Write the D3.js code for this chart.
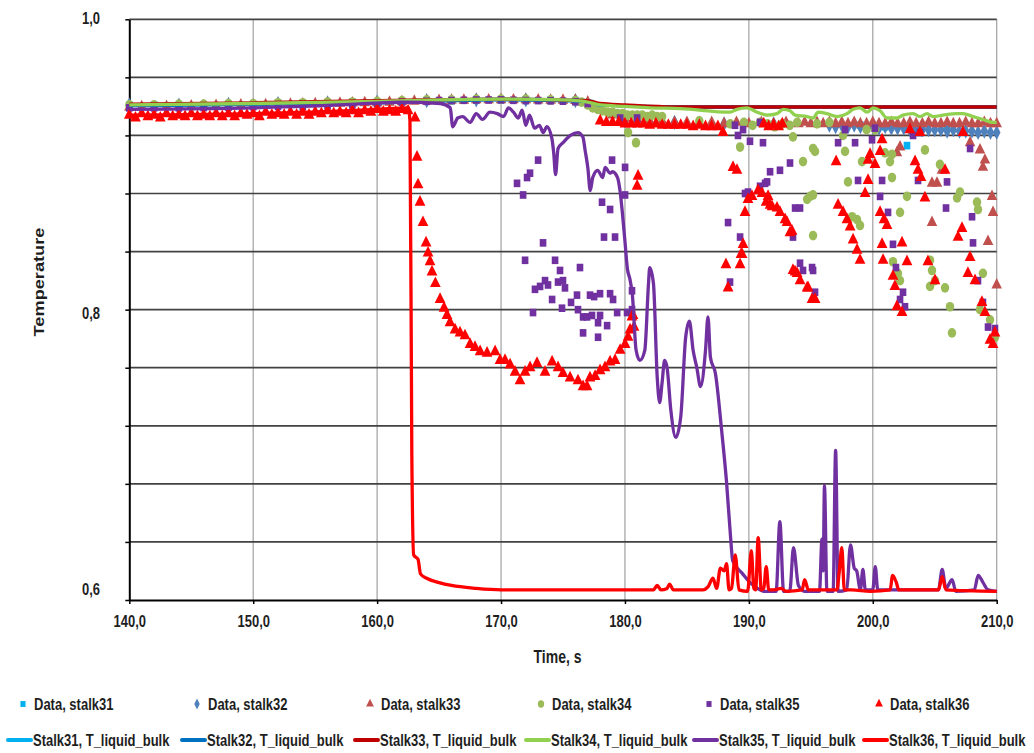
<!DOCTYPE html>
<html>
<head>
<meta charset="utf-8">
<script src="https://cdn.jsdelivr.net/npm/d3@7"></script>
<style>
  body { margin: 0; background: #fff; }
  text { font-family: "Liberation Sans", Arial, sans-serif; font-weight: bold; fill: #1e1e1e; }
</style>
</head>
<body>
<script>
// Axis ticks
const xTicks = [140, 150, 160, 170, 180, 190, 200, 210];
const yGrid = [0.60, 0.64, 0.68, 0.72, 0.76, 0.80, 0.84, 0.88, 0.92, 0.96, 1.00];
const yLabels = [0.6, 0.8, 1.0];

// Measured data, [time s, temperature]
const data31 = [[140,0.941],[142,0.941],[144,0.941],[146,0.941],[148,0.9412],[150,0.9415],[152,0.942],[154,0.942],[156,0.9425],[158,0.943],[160,0.943],[162,0.9435],[164,0.944],[166,0.944],[168,0.9445],[170,0.9445],[172,0.9445],[174,0.9445],[176,0.944],[177.2,0.942],[177.6,0.940],[178.0,0.938],
  [199,0.927],[201,0.926],[202.76,0.913],[204,0.926],[206,0.925]];

const data32 = [[140,0.941],[144,0.941],[148,0.9415],[152,0.942],[156,0.9425],[160,0.943],[164,0.944],[168,0.9445],[172,0.9445],[176,0.944],[180,0.930],[184,0.929],[188,0.928],[192,0.928],
  [196.5,0.927],[197,0.926],[197.5,0.927],[198,0.926],[198.5,0.927],[199,0.926],[199.5,0.926],[200,0.926],[200.5,0.925],[201,0.926],[201.5,0.925],[202,0.925],[202.5,0.925],[203,0.924],[203.5,0.925],[204,0.924],[204.5,0.924],[205,0.924],[205.5,0.924],[206,0.923],[206.5,0.924],[207,0.923],[207.5,0.923],[208,0.923],[208.5,0.922],[209,0.923],[209.5,0.922],[210,0.922]];

const data33 = [[140,0.9395],[141,0.9397],[142,0.9398],[143,0.940],[144,0.9401],[145,0.9403],[146,0.9404],[147,0.9406],[148,0.9407],[149,0.9409],[150,0.941],[151,0.9412],[152,0.9413],[153,0.9415],[154,0.9416],[155,0.9418],[156,0.942],[157,0.9421],[158,0.9423],[159,0.9425],[160,0.9426],[161,0.9429],[162,0.9432],[163,0.9435],[164,0.9438],[165,0.944],[166,0.9442],[167,0.9443],[168,0.9445],[169,0.9445],[170,0.9446],[171,0.9445],[172,0.9445],[173,0.9444],[174,0.9443],[175,0.9442],[176,0.944],[177,0.943],
  [178,0.938],[179,0.934],[180,0.932],[181,0.931],[182,0.930],[183,0.930],[184,0.929],[185,0.929],[186,0.929],[187,0.929],[188,0.928],[189,0.929],[190,0.928],[191,0.929],[192,0.928],[193,0.929],[194,0.928],[194.5,0.929],[195,0.928],[195.5,0.929],[196,0.928],[196.5,0.929],[197,0.928],[197.5,0.929],[198,0.928],[198.5,0.929],[199,0.928],[199.5,0.928],[200,0.929],[200.5,0.928],[201,0.928],[201.5,0.929],[202,0.928],[202.5,0.928],[203,0.929],[203.5,0.928],[204,0.928],[204.5,0.929],[205,0.928],[205.5,0.928],[206,0.929],[206.5,0.928],[207,0.928],[207.5,0.929],[208,0.928],[208.5,0.928],[209,0.929],[209.5,0.928],[210,0.928],
  [201.95,0.908],[202.2,0.912],[205.58,0.896],[204.78,0.887],[205.18,0.887],[204.78,0.860],[207.85,0.915],[208.65,0.910],[209.05,0.903],[208.89,0.898],[209.62,0.878],[209.7,0.867],[209.3,0.847],[210,0.817]];

const data34 = [[140,0.941],[142,0.941],[144,0.9415],[146,0.9415],[148,0.942],[150,0.942],[152,0.9425],[154,0.9425],[156,0.943],[158,0.943],[160,0.9435],[162,0.944],[164,0.9445],[166,0.9445],[168,0.945],[170,0.945],[172,0.945],[174,0.9445],[176,0.944],
  [176.5,0.943],[177,0.941],[177.4,0.939],[177.8,0.938],[178.2,0.937],[178.6,0.936],[179,0.936],[179.4,0.935],[179.8,0.935],[180.2,0.934],[180.6,0.934],[181,0.934],[181.4,0.934],[181.8,0.933],[182.2,0.934],[182.6,0.933],[183,0.933],
  [180.25,0.922],[180.89,0.915],[186,0.930],[188.5,0.928],[189.6,0.929],[190.3,0.927],[190.9,0.929],[191.5,0.928],[192.1,0.926],[192.7,0.928],[193.3,0.927],[193.9,0.929],[195.5,0.928],[196.5,0.929],[199.5,0.924],[200.2,0.924],
  [189.29,0.912],[193.56,0.919],[195.18,0.911],[194.37,0.902],[195.34,0.909],[197.6,0.920],[197.76,0.909],[199.13,0.902],[198,0.888],[194.7,0.876],[194.94,0.878],[195.18,0.879],[195.18,0.851],[198.33,0.864],[198.73,0.862],[198.97,0.858],[202.2,0.867],[201.55,0.907],[200.99,0.908],[201.39,0.902],[201.55,0.891],[202.76,0.878],[204.21,0.910],[205.42,0.900],[206.8,0.877],[208.41,0.874],[208.49,0.869],[207.04,0.881],
  [201.63,0.833],[202.03,0.825],[202.2,0.820],[204.62,0.834],[204.78,0.827],[205.02,0.820],[204.62,0.816],[205.83,0.815],[206.23,0.802],[206.39,0.784],[208.89,0.825],[208.65,0.800],[209.46,0.793],[209.86,0.781]];

const data35 = [[140,0.939],[142,0.939],[144,0.939],[146,0.9392],[148,0.9395],[150,0.9398],[152,0.940],[154,0.940],[156,0.9405],[158,0.941],[160,0.942],[162,0.943],[164,0.9435],[165,0.944],[166,0.944],[167,0.9442],[168,0.9444],[169,0.9444],[170,0.9445],[171,0.9442],[172,0.944],[173,0.944],[174,0.9438],[175,0.9436],[176,0.9432],[177,0.942],
  [179.61,0.932],[180.98,0.932],
  [171.29,0.887],[171.78,0.879],[172.1,0.891],[172.34,0.894],[172.99,0.903],[178.96,0.903],[178.15,0.874],[178.8,0.869],[178.31,0.850],[179.2,0.850],[180.01,0.898],[180.01,0.879],
  [173.39,0.846],[171.94,0.834],[174.36,0.834],[174.76,0.827],[176.37,0.829],[172.74,0.814],[173.15,0.816],[173.55,0.820],[173.79,0.817],[174.6,0.819],[175,0.820],[175.16,0.815],[174.12,0.807],[174.92,0.801],[175.65,0.805],[176.21,0.800],[176.13,0.810],[177.18,0.810],[176.62,0.795],[176.94,0.795],[177.34,0.796],[177.83,0.791],[178.8,0.811],[179.37,0.798],[180.57,0.800],[172.58,0.798],[179.04,0.807],[176.62,0.784],[177.83,0.781],[178.56,0.789],[177.99,0.796],[177.51,0.809],[177.99,0.811],[180.17,0.798],[180.57,0.813],
  [188.88,0.927],[189.12,0.920],[189.53,0.924],[190.09,0.916],[190.9,0.929],[191.14,0.915],[188.32,0.860],[189.29,0.850],[188.48,0.819],[189.69,0.880],[189.93,0.881],[190.9,0.885],[191.47,0.888],[191.71,0.895],[191.31,0.887],[192.51,0.896],[193.32,0.901],[193.73,0.870],[194.13,0.870],[193.56,0.850],[194.13,0.832],[194.37,0.827],[195.34,0.812],[195.1,0.829],[195.18,0.827],
  [197.2,0.915],[197.76,0.924],[198.57,0.915],[200.18,0.925],[199.94,0.917],[198.81,0.889],[200.75,0.889],[200.59,0.878],[201.23,0.867],[201.63,0.845],[201.87,0.829],[202.44,0.812],[202.6,0.802],[202.2,0.807],
  [203.25,0.920],[203.65,0.889],[205.91,0.870],[208.01,0.864],[208.09,0.846],[208.49,0.820],[208.89,0.805],[209.3,0.788],[209.86,0.787],[205.99,0.888],[207.85,0.911],[203.81,0.922]];

const data36 = [[140,0.934],[140.5,0.932],[141,0.935],[141.5,0.933],[142,0.934],[142.5,0.932],[143,0.935],[143.5,0.933],[144,0.934],[144.5,0.933],[145,0.935],[145.5,0.933],[146,0.934],[146.5,0.933],[147,0.935],[147.5,0.933],[148,0.935],[148.5,0.933],[149,0.935],[149.5,0.934],[150,0.935],[150.5,0.933],[151,0.936],[151.5,0.934],[152,0.935],[152.5,0.934],[153,0.936],[153.5,0.934],[154,0.936],[154.5,0.934],[155,0.936],[155.5,0.935],[156,0.937],[156.5,0.935],[157,0.936],[157.5,0.935],[158,0.937],[158.5,0.935],[159,0.937],[159.5,0.936],[160,0.938],[160.5,0.936],[161,0.937],[161.5,0.936],[162,0.938],[162.5,0.937],
  [163.06,0.932],[163.22,0.905],[163.3,0.886],[163.46,0.874],[163.7,0.860],[163.95,0.846],[164.11,0.839],[164.27,0.833],[164.43,0.826],[164.7,0.818],[165.08,0.807],[165.4,0.801],[165.64,0.796],[165.88,0.791],[166.29,0.786],[166.69,0.784],[167.09,0.782],[167.5,0.776],[167.9,0.774],[168.31,0.771],[168.87,0.770],[169.52,0.771],[169.92,0.765],[170.32,0.765],[170.73,0.762],[171.13,0.757],[171.53,0.751],[171.94,0.757],[172.34,0.760],[172.9,0.763],[173.55,0.757],[174.12,0.764],[174.6,0.760],[175,0.756],[175.57,0.753],[176.21,0.751],[176.62,0.747],[176.94,0.747],[177.18,0.753],[177.59,0.754],[177.99,0.758],[178.39,0.760],[178.8,0.764],[179.2,0.765],[179.61,0.772],[180.01,0.776],[180.25,0.781],[180.41,0.786],[180.57,0.795],[180.65,0.796],[180.73,0.788],[180.98,0.885],[181.06,0.892],
  [178,0.930],[178.5,0.929],[179,0.929],[179.5,0.929],[180,0.928],[180.5,0.928],[181,0.928],[181.5,0.928],[182,0.927],[182.5,0.928],[183,0.927],[183.5,0.927],[184,0.927],[184.5,0.927],[185,0.927],[185.5,0.926],[186,0.927],[186.5,0.926],[187,0.926],[187.5,0.926],[187.91,0.922],
  [188.15,0.831],[188.32,0.815],[189.45,0.838],[193.73,0.826],[194.13,0.820],[194.78,0.815],[195.1,0.807],[195.34,0.807],
  [188.72,0.898],[189.04,0.896],[189.53,0.845],[189.29,0.831],[189.37,0.838],[189.69,0.867],[189.93,0.876],[190.25,0.878],[190.74,0.882],[191.06,0.880],[191.39,0.874],[191.55,0.878],[191.71,0.872],[191.87,0.871],[192.27,0.870],[192.51,0.867],[192.92,0.862],[193.08,0.860],[193.32,0.853],[193.48,0.854],
  [193.56,0.827],[193.89,0.825],[194.7,0.815],[191.2,0.928],[191.6,0.926],[192,0.927],[192.4,0.926],[192.7,0.928],
  [197.2,0.872],[197.6,0.867],[197.92,0.862],[198.17,0.857],[198.41,0.848],[198.73,0.841],[198.97,0.834],
  [197.04,0.902],[199.62,0.903],[199.78,0.907],[200.18,0.900],[199.62,0.889],[199.38,0.880],[200.75,0.917],[200.59,0.909],
  [200.59,0.867],[200.91,0.862],[201.15,0.858],[200.75,0.845],[200.83,0.834],[201.63,0.823],[201.79,0.816],[201.95,0.802],[202.36,0.798],[202.36,0.846],[202.76,0.833],
  [203,0.924],[203.81,0.922],[203.41,0.902],[203.65,0.896],[203.89,0.891],[204.21,0.877],
  [204.45,0.833],[205.02,0.820],[205.83,0.896],[206.88,0.850],[207.2,0.856],[207.85,0.836],[207.68,0.825],[208.25,0.820],[208.81,0.805],[209.05,0.798],[209.46,0.779],[209.7,0.776],[209.86,0.784],[207.28,0.922]];

// Model lines, T_liquid_bulk
const line31 = [[140,0.941],[160,0.943],[170,0.945],[177,0.944],[178,0.941],[184,0.9396],[210,0.9396]];
const line32 = [[140,0.9405],[160,0.9425],[170,0.9445],[177,0.9435],[178,0.941],[184,0.9396],[210,0.9396]];
const line33 = [[140,0.9415],[150,0.9425],[160,0.944],[170,0.945],[177,0.944],[178,0.942],[180,0.941],[184,0.9396],[210,0.9396]];
const line34 = [[140,0.941],[150,0.942],[160,0.9435],[165,0.9445],[170,0.945],[175,0.9445],[177,0.943],[178,0.941],[180,0.940],[182,0.939],[184.45,0.9385],[188.48,0.936],[189.04,0.938],[189.85,0.939],[190.66,0.936],[191.47,0.934],[192.27,0.935],[192.76,0.938],[193.32,0.937],[193.73,0.934],[194.7,0.933],[195.18,0.932],[195.59,0.936],[196.31,0.935],[197.12,0.933],[197.92,0.935],[198.41,0.938],[198.97,0.939],[199.54,0.936],[200.02,0.939],[200.59,0.937],[201.15,0.932],[201.95,0.932],[202.44,0.934],[203.25,0.935],[203.81,0.933],[204.37,0.935],[204.86,0.933],[205.67,0.934],[206.8,0.935],[207.28,0.935],[208.09,0.933],[208.89,0.931],[209.7,0.929],[210,0.929]];
const line35 = [[140,0.938],[150,0.939],[157,0.941],[162,0.943],[165.1,0.942],[165.9,0.939],[166.1,0.926],[166.5,0.932],[166.9,0.933],[167.5,0.929],[168,0.935],[168.5,0.931],[169.1,0.936],[169.7,0.935],[170.2,0.933],[170.6,0.939],[171,0.936],[171.4,0.932],[171.7,0.9375],[172,0.927],[172.3,0.934],[172.7,0.925],[173.1,0.927],[173.4,0.922],[173.7,0.926],[174.1,0.918],[174.25,0.908],[174.4,0.893],[174.6,0.911],[175,0.915],[175.6,0.920],[176.2,0.922],[176.6,0.919],[176.8,0.909],[177,0.898],[177.2,0.882],[177.4,0.891],[177.8,0.896],[178.2,0.891],[178.4,0.898],[178.8,0.894],[179,0.895],[179.4,0.891],[179.6,0.882],[179.8,0.866],[180,0.847],[180.2,0.828],[180.4,0.821],[180.6,0.810],[180.9,0.772],[181.2,0.765],[181.6,0.772],[181.9,0.818],[182,0.829],[182.3,0.818],[182.6,0.754],[182.8,0.736],[183,0.750],[183.2,0.765],[183.4,0.760],[183.7,0.731],[184.1,0.712],[184.5,0.726],[184.9,0.781],[185.2,0.792],[185.5,0.772],[185.8,0.760],[186.1,0.747],[186.5,0.772],[186.7,0.795],[186.9,0.767],[187.3,0.756],[187.8,0.717],[188.2,0.681],[188.5,0.646],[188.7,0.627],[189.5,0.618],[190.1,0.612],[190.7,0.608],[191.2,0.606],[192.2,0.606],[192.5,0.654],[192.8,0.606],[193.3,0.606],[193.6,0.636],[194,0.610],[194.5,0.606],[195.7,0.606],[195.9,0.642],[196,0.620],[196.1,0.679],[196.3,0.606],[196.8,0.606],[197,0.703],[197.2,0.606],[197.9,0.607],[198.2,0.638],[198.5,0.622],[198.7,0.620],[199,0.607],[199.2,0.621],[199.4,0.607],[200,0.607],[200.2,0.623],[200.4,0.607],[205.3,0.607],[205.6,0.621],[205.9,0.608],[206.4,0.614],[206.7,0.606],[208.2,0.607],[208.5,0.617],[208.9,0.612],[209.3,0.607],[210,0.606]];
const line36 = [[140,0.934],[150,0.935],[158,0.937],[162.5,0.939],[162.65,0.930],[162.8,0.700],[162.95,0.631],[163.3,0.628],[163.5,0.618],[164,0.615],[165,0.612],[166,0.610],[168,0.608],[170,0.607],[175,0.607],[180,0.607],[182.3,0.607],[182.6,0.610],[182.9,0.607],[183.4,0.608],[183.6,0.611],[183.9,0.607],[186.3,0.607],[186.7,0.609],[187.1,0.615],[187.4,0.608],[187.7,0.622],[188,0.620],[188.2,0.625],[188.4,0.607],[188.6,0.608],[188.9,0.631],[189.2,0.607],[189.9,0.606],[190.2,0.634],[190.4,0.608],[190.55,0.607],[190.75,0.643],[191,0.607],[191.2,0.608],[191.4,0.623],[191.6,0.607],[192,0.607],[192.6,0.608],[193,0.606],[194.3,0.607],[194.5,0.614],[194.8,0.607],[197.1,0.607],[197.3,0.620],[197.5,0.636],[197.7,0.607],[198.3,0.607],[199.8,0.606],[201.4,0.607],[201.6,0.617],[201.9,0.612],[202.1,0.607],[205.3,0.607],[205.6,0.616],[205.9,0.607],[210,0.606]];

const dataSeries = [
  { label: "Data, stalk31", values: data31, color: "#00B0F0", symbol: d3.symbolSquare, size: 44 },
  { label: "Data, stalk32", values: data32, color: "#4F81BD", symbol: d3.symbolDiamond, size: 50 },
  { label: "Data, stalk33", values: data33, color: "#C0504D", symbol: d3.symbolTriangle, size: 48 },
  { label: "Data, stalk34", values: data34, color: "#9BBB59", symbol: d3.symbolCircle, size: 56 },
  { label: "Data, stalk35", values: data35, color: "#7030A0", symbol: d3.symbolSquare, size: 44 },
  { label: "Data, stalk36", values: data36, color: "#FF0000", symbol: d3.symbolTriangle, size: 50 },
];
const lineSeries = [
  { label: "Stalk31, T_liquid_bulk", values: line31, color: "#00B0F0" },
  { label: "Stalk32, T_liquid_bulk", values: line32, color: "#0070C0" },
  { label: "Stalk33, T_liquid_bulk", values: line33, color: "#C00000" },
  { label: "Stalk34, T_liquid_bulk", values: line34, color: "#92D050" },
  { label: "Stalk35, T_liquid_bulk", values: line35, color: "#7030A0" },
  { label: "Stalk36, T_liquid_bulk", values: line36, color: "#FF0000" },
];

const width = 1034, height = 753;
const svg = d3.select("body").append("svg").attr("width", width).attr("height", height);

const x = d3.scaleLinear().domain([140, 210]).range([129.3, 996.7]);
const y = d3.scaleLinear().domain([0.6, 1.0]).range([600, 19.3]);
const fmt = (d) => d3.format(".1f")(d).replace(".", ",");

// vertical grid
svg.append("g").selectAll("line").data(xTicks.slice(1)).enter().append("line")
  .attr("x1", (d) => x(d)).attr("x2", (d) => x(d))
  .attr("y1", y(1.0)).attr("y2", y(0.6))
  .attr("stroke", "#a8a8a8").attr("stroke-width", 1.3);

// horizontal grid
svg.append("g").selectAll("line").data(yGrid.slice(1)).enter().append("line")
  .attr("x1", x(140)).attr("x2", x(210))
  .attr("y1", (d) => y(d)).attr("y2", (d) => y(d))
  .attr("stroke", "#424242").attr("stroke-width", 1.7);

// y axis
const yNudge = (d) => (d > 0.99 ? -1 : d > 0.79 && d < 0.81 ? 2.8 : -8.7);
const yAxis = svg.append("g").attr("transform", `translate(${x(140)},0)`)
  .call(d3.axisLeft(y).tickValues(yGrid).tickSize(4).tickSizeOuter(0).tickPadding(25.3)
    .tickFormat((d) => (yLabels.some((v) => Math.abs(v - d) < 1e-6) ? fmt(d) : "")));
yAxis.select(".domain").attr("stroke", "#000").attr("stroke-width", 2);
yAxis.selectAll(".tick line").attr("stroke", "#000").attr("stroke-width", 1.5);
yAxis.selectAll(".tick text")
  .attr("y", (d) => yNudge(d))
  .attr("transform", "scale(1,1.2)")
  .style("font-size", "13px").style("font-family", "'Liberation Sans', Arial, sans-serif")
  .style("font-weight", "bold").attr("fill", "#1e1e1e");

// x axis
const xAxis = svg.append("g").attr("transform", `translate(0,${y(0.6)})`)
  .call(d3.axisBottom(x).tickValues(xTicks).tickSize(4).tickSizeOuter(0).tickPadding(9).tickFormat(fmt));
xAxis.select(".domain").attr("stroke", "#000").attr("stroke-width", 2);
xAxis.selectAll(".tick line").attr("stroke", "#000").attr("stroke-width", 1.5);
xAxis.selectAll(".tick text")
  .attr("transform", "scale(1,1.2)")
  .style("font-size", "13px").style("font-family", "'Liberation Sans', Arial, sans-serif")
  .style("font-weight", "bold").attr("fill", "#1e1e1e");

// data markers
dataSeries.forEach((s) => {
  const sym = d3.symbol().type(s.symbol).size(s.size);
  svg.append("g").selectAll("path").data(s.values).enter().append("path")
    .attr("d", sym)
    .attr("transform", (d) => `translate(${x(d[0])},${y(d[1])}) scale(1,1.15)`)
    .attr("fill", s.color);
});

// model lines
const line = d3.line().x((d) => x(d[0])).y((d) => y(d[1])).curve(d3.curveMonotoneX);
lineSeries.forEach((s) => {
  svg.append("path").datum(s.values)
    .attr("d", line)
    .attr("fill", "none")
    .attr("stroke", s.color)
    .attr("stroke-width", 3.3)
    .attr("stroke-linejoin", "round");
});

// axis titles
svg.append("text")
  .attr("transform", "translate(44,282) rotate(-90) scale(1.3,1)")
  .attr("text-anchor", "middle")
  .style("font-size", "14px")
  .text("Temperature");

svg.append("text")
  .attr("transform", "translate(557.5,663) scale(1,1.3)")
  .attr("text-anchor", "middle")
  .style("font-size", "14px")
  .text("Time, s");

// legend
const legendX = [33, 207, 380, 551, 719, 889];
const legend = svg.append("g");
dataSeries.forEach((s, i) => {
  legend.append("path")
    .attr("d", d3.symbol().type(s.symbol).size(s.symbol === d3.symbolCircle ? 32 : 26))
    .attr("transform", `translate(${legendX[i] - 10},704) scale(1,1.15)`)
    .attr("fill", s.color);
  legend.append("text")
    .attr("transform", `translate(${legendX[i] + 1},710) scale(1,1.2)`)
    .style("font-size", "13px")
    .text(s.label);
});
lineSeries.forEach((s, i) => {
  legend.append("line")
    .attr("x1", legendX[i] - 25).attr("x2", legendX[i] - 2)
    .attr("y1", 740).attr("y2", 740)
    .attr("stroke", s.color).attr("stroke-width", 4).attr("stroke-linecap", "round");
  legend.append("text")
    .attr("transform", `translate(${legendX[i]},745.5) scale(1,1.2)`)
    .style("font-size", "13px")
    .text(s.label);
});
</script>
</body>
</html>
